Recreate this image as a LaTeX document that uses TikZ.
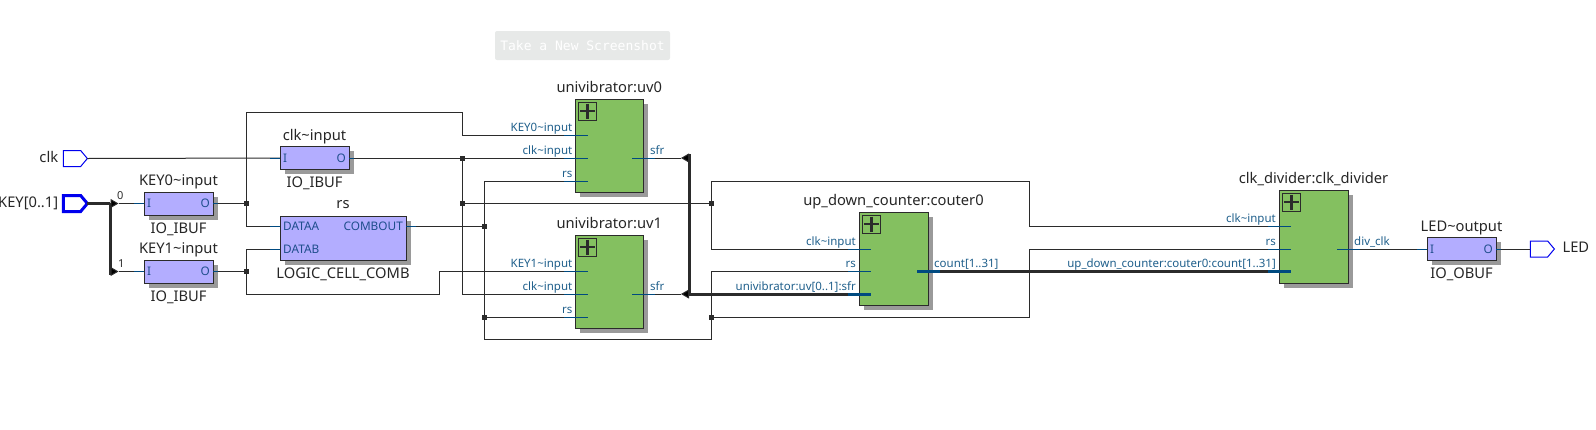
\documentclass[tikz,border=0pt]{standalone}
\usepackage{xcolor}
\usepackage{fontspec}
\setmainfont{Noto Sans}
\setmonofont{DejaVu Sans Mono}
\usetikzlibrary{calc, positioning, arrows.meta, shapes.symbols, shadows}
\definecolor{wireInk}{HTML}{2B2B2B}
\definecolor{stubBlue}{HTML}{004A80}
\definecolor{portBlue}{HTML}{1F5F8B}
\definecolor{cellBlue}{HTML}{1F4E8C}
\definecolor{blockGreen}{HTML}{84C060}
\definecolor{bufLilac}{HTML}{B3ADFF}
\definecolor{shadeGrey}{HTML}{9A9A9A}
\definecolor{pinBlue}{HTML}{0000EE}
\definecolor{btnGrey}{HTML}{E7E9E8}
\tikzset{
  block/.style  = {draw=wireInk, fill=blockGreen, line width=1pt, minimum width=68pt, minimum height=93pt,
                   outer sep=0pt, drop shadow={shadow xshift=4.5pt, shadow yshift=-4.5pt, fill=shadeGrey, opacity=1}},
  buf/.style    = {draw=wireInk, fill=bufLilac, line width=1pt, minimum width=69pt, minimum height=23pt,
                   outer sep=0pt, drop shadow={shadow xshift=4.5pt, shadow yshift=-4.5pt, fill=shadeGrey, opacity=1}},
  plusbox/.style= {draw=wireInk, line width=1pt, minimum width=18.5pt, minimum height=18pt, inner sep=0pt, outer sep=0pt,
                   path picture={\draw[wireInk, line width=2.8pt] ($(path picture bounding box.center)+(-7.5,0)$) -- ($(path picture bounding box.center)+(7.5,0)$);
                                 \draw[wireInk, line width=2.8pt] ($(path picture bounding box.center)+(0,-7.5)$) -- ($(path picture bounding box.center)+(0,7.5)$);}},
  pinshape/.style = {draw=pinBlue, shape=signal, signal to=east, signal from=nowhere, signal pointer angle=100,
                   minimum width=24pt, minimum height=16pt, inner sep=0pt, outer sep=0pt, line width=1pt},
  jn/.style     = {fill=wireInk, minimum size=5pt, inner sep=0pt, outer sep=0pt},
  wire/.style   = {draw=wireInk, line width=1pt},
  busline/.style= {draw=wireInk, line width=3pt},
  tap/.style    = {draw=wireInk, line width=1pt, -{Triangle[length=8pt, width=9pt, fill=black]}},
  stub/.style   = {draw=stubBlue, line width=1pt},
  busstub/.style= {draw=stubBlue, line width=3pt},
  title/.style  = {font=\fontsize{14.7}{16}\selectfont, text=black!85, inner sep=0pt, text height=10pt, text depth=3pt},
  plbl/.style   = {font=\fontsize{11.5}{14}\selectfont, text=portBlue, inner sep=0pt, text height=9pt, text depth=3pt},
  clbl/.style   = {font=\fontsize{11.8}{14}\selectfont, text=cellBlue, inner sep=0pt},
  btn/.style    = {fill=btnGrey, rounded corners=2pt, minimum width=175pt, minimum height=29pt, inner sep=0pt,
                   font=\ttfamily\fontsize{13}{15}\selectfont, text=white}
}
\begin{document}
\begin{tikzpicture}[x=1pt, y=-1pt]
  \useasboundingbox (0,0) rectangle (1596,429);
  \node[btn] (shot) at (582.5,45.5) {Take a New Screenshot};

  % pins
  \node[pinshape] (clk) at (72,158.5) {};
  \node[pinshape, line width=3pt] (key) at (72,203.5) {};
  \node[pinshape] (led) at (1539,249) {};
  \node[title, left=5pt of clk] (clkname) {clk};
  \node[title, left=5pt of key] (keyname) {KEY[0..1]};
  \node[title, right=8pt of led] (ledname) {LED};

  % buffers and the comb cell
  \node[buf] (clkin) at (314.5,158) {};
  \node[buf] (kin0) at (178.5,203.5) {};
  \node[buf] (kin1) at (178.5,271.5) {};
  \node[buf] (ledout) at (1461.5,249) {};
  \node[buf, minimum width=126pt, minimum height=44pt] (rs) at (343,238) {};
  \node[title, above=3pt of clkin] (clkinT) {clk\string~input};
  \node[title, above=3pt of kin0] (kin0T) {KEY0\string~input};
  \node[title, above=3pt of kin1] (kin1T) {KEY1\string~input};
  \node[title, above=3pt of ledout] (ledoutT) {LED\string~output};
  \node[title, above=4pt of rs] (rsT) {rs};
  \node[title, below=8pt of clkin] (clkinB) {IO\_IBUF};
  \node[title, below=8pt of kin0] (kin0B) {IO\_IBUF};
  \node[title, below=8pt of kin1] (kin1B) {IO\_IBUF};
  \node[title, below=8pt of ledout] (ledoutB) {IO\_OBUF};
  \node[title, below=8pt of rs] (rsB) {LOGIC\_CELL\_COMB};

  % blocks
  \node[block] (uv0) at (609.25,145.5) {};
  \node[block] (uv1) at (609.25,281.5) {};
  \node[block, minimum width=69pt] (cnt) at (893.5,258.5) {};
  \node[block, minimum width=69pt] (div) at (1313.5,236.5) {};
  \foreach \b in {uv0, uv1, cnt, div}
    \node[plusbox, below right=3pt and 3pt of \b.north west] (\b plus) {};
  \node[title, above=3.5pt of uv0] (uv0T) {univibrator:uv0};
  \node[title, above=3.5pt of uv1] (uv1T) {univibrator:uv1};
  \node[title, above=3.5pt of cnt] (cntT) {up\_down\_counter:couter0};
  \node[title, above=3.5pt of div] (divT) {clk\_divider:clk\_divider};

  % port points
  \coordinate (uv0a) at (575.5,135); \coordinate (uv0b) at (575.5,158); \coordinate (uv0c) at (575.5,181);
  \coordinate (uv0s) at (643,158);
  \coordinate (uv1a) at (575.5,271.5); \coordinate (uv1b) at (575.5,294); \coordinate (uv1c) at (575.5,317);
  \coordinate (uv1s) at (643,294);
  \coordinate (cnta) at (859,249); \coordinate (cntb) at (859,271.5); \coordinate (cntc) at (859,294);
  \coordinate (cnto) at (928,271.5);
  \coordinate (diva) at (1279,226); \coordinate (divb) at (1279,249); \coordinate (divc) at (1279,271.5);
  \coordinate (divo) at (1348,249);
  \coordinate (rsa) at (280,226); \coordinate (rsb) at (280,249); \coordinate (rso) at (406,226);

  % bends
  \coordinate (topL) at (246.5,112); \coordinate (topR) at (462.5,112);
  \coordinate (lowL) at (439.5,294);
  \coordinate (upC) at (1029,181); \coordinate (rsC) at (1029,317);
  \coordinate (busA) at (110,203.5); \coordinate (busB) at (110,271.5);
  \coordinate (tapA) at (118.5,203.5); \coordinate (tapB) at (118.5,271.5);
  \coordinate (sfrA) at (689,158); \coordinate (sfrB) at (689,294); \coordinate (busTop) at (689,154);
  \coordinate (tapC) at (681,158); \coordinate (tapD) at (681,294);
  \coordinate (busEnd) at (110,275);

  % junctions
  \node[jn] (jk0) at (246.5,203.5) {};
  \node[jn] (jk1) at (246.5,271.5) {};
  \node[jn] (jc1) at (462.5,158) {};
  \node[jn] (jc2) at (462.5,203) {};
  \node[jn] (jc3) at (711,203) {};
  \node[jn] (jr1) at (484,226) {};
  \node[jn] (jr2) at (484,317) {};
  \node[jn] (jr3) at (711,317) {};
  \coordinate (rsLow) at (711,339);

  % wires
  \draw[wire] (clk.east) -- (clkin.west);
  \draw[wire] (clkin.east) -- (jc1) -- (uv0b);
  \draw[wire] (jc1) |- (uv1b);
  \draw[wire] (jc2) -- (jc3);
  \draw[wire] (jc3) |- (upC) |- (diva);
  \draw[wire] (jc3) |- (cnta);
  \draw[wire] (kin0.east) -- (jk0);
  \draw[wire] (kin1.east) -- (jk1);
  \draw[wire] (jk0) -- (topL) -- (topR) |- (uv0a);
  \draw[wire] (jk0) |- (rsa);
  \draw[wire] (jk1) |- (rsb);
  \draw[wire] (jk1) |- (lowL) |- (uv1a);
  \draw[wire] (rso) -- (jr1);
  \draw[wire] (jr1) |- (uv0c);
  \draw[wire] (jr1) |- (rsLow) |- (cntb);
  \draw[wire] (jr2) -- (uv1c);
  \draw[wire] (jr3) -- (rsC) |- (divb);
  \draw[wire] (uv0s) -- (tapC);
  \draw[wire] (uv1s) -- (tapD);
  \draw[wire] (divo) -- (ledout.west);
  \draw[wire] (ledout.east) -- (led.west);
  \draw[wire] (tapA) -- (kin0.west);
  \draw[wire] (tapB) -- (kin1.west);

  % buses
  \draw[busline] (key.east) -- (busA);
  \draw[busline] (busA) -- (busEnd);
  \draw[busline] (busTop) |- (cntc);
  \draw[busline] (cnto) -- (divc);
  \draw[tap] (busA) -- (tapA);
  \draw[tap] (busB) -- (tapB);
  \draw[tap] (sfrA) -- (tapC);
  \draw[tap] (sfrB) -- (tapD);

  % stubs
  \foreach \p in {uv0a, uv0b, uv0c, uv1a, uv1b, uv1c}
    \draw[stub] ($(\p)+(-12,0)$) -- ($(\p)+(12.5,0)$);
  \foreach \p in {cnta, cntb, diva, divb, uv0s, uv1s, divo}
    \draw[stub] ($(\p)+(-11,0)$) -- ($(\p)+(11.5,0)$);
  \foreach \p in {cntc, cnto, divc}
    \draw[busstub] ($(\p)+(-11,0)$) -- ($(\p)+(11.5,0)$);
  \foreach \p in {clkin.west, kin0.west, kin1.west, rsa, rsb}
    \draw[stub] (\p) -- ($(\p)+(-10,0)$);
  \foreach \p in {clkin.east, kin0.east, kin1.east, ledout.east}
    \draw[stub] (\p) -- ($(\p)+(5,0)$);
  \draw[stub] (ledout.west) -- ($(ledout.west)+(-10,0)$);
  \draw[stub] (rso) -- ($(rso)+(10,0)$);

  % port labels
  \node[plbl, above left=0.5pt and 3pt of uv0a] (uv0aL) {KEY0\string~input};
  \node[plbl, above left=0.5pt and 3pt of uv0b] (uv0bL) {clk\string~input};
  \node[plbl, above left=0.5pt and 3pt of uv0c] (uv0cL) {rs};
  \node[plbl, above right=0.5pt and 7pt of uv0s] (uv0sL) {sfr};
  \node[plbl, above left=0.5pt and 3pt of uv1a] (uv1aL) {KEY1\string~input};
  \node[plbl, above left=0.5pt and 3pt of uv1b] (uv1bL) {clk\string~input};
  \node[plbl, above left=0.5pt and 3pt of uv1c] (uv1cL) {rs};
  \node[plbl, above right=0.5pt and 7pt of uv1s] (uv1sL) {sfr};
  \node[plbl, above left=0.5pt and 3pt of cnta] (cntaL) {clk\string~input};
  \node[plbl, above left=0.5pt and 3pt of cntb] (cntbL) {rs};
  \node[plbl, above left=0.5pt and 3pt of cntc] (cntcL) {univibrator:uv[0..1]:sfr};
  \node[plbl, above right=0.5pt and 6pt of cnto] (cntoL) {count[1..31]};
  \node[plbl, above left=0.5pt and 3pt of diva] (divaL) {clk\string~input};
  \node[plbl, above left=0.5pt and 3pt of divb] (divbL) {rs};
  \node[plbl, above left=0.5pt and 3pt of divc] (divcL) {up\_down\_counter:couter0:count[1..31]};
  \node[plbl, above right=0.5pt and 6pt of divo] (divoL) {div\_clk};
  \node[plbl, text=wireInk, font=\fontsize{11}{12}\selectfont, above right=1pt and 7pt of busA] (bit0) {0};
  \node[plbl, text=wireInk, font=\fontsize{11}{12}\selectfont, above right=1pt and 8pt of busB] (bit1) {1};

  % cell pins
  \node[clbl, right=3pt of clkin.west] (clkinI) {I};
  \node[clbl, left=3pt of clkin.east] (clkinO) {O};
  \node[clbl, right=3pt of kin0.west] (kin0I) {I};
  \node[clbl, left=3pt of kin0.east] (kin0O) {O};
  \node[clbl, right=3pt of kin1.west] (kin1I) {I};
  \node[clbl, left=3pt of kin1.east] (kin1O) {O};
  \node[clbl, right=3pt of ledout.west] (ledoutI) {I};
  \node[clbl, left=3pt of ledout.east] (ledoutO) {O};
  \node[clbl, right=3pt of rsa] (rsaL) {DATAA};
  \node[clbl, right=3pt of rsb] (rsbL) {DATAB};
  \node[clbl, left=3pt of rso] (rsoL) {COMBOUT};
\end{tikzpicture}
\end{document}
